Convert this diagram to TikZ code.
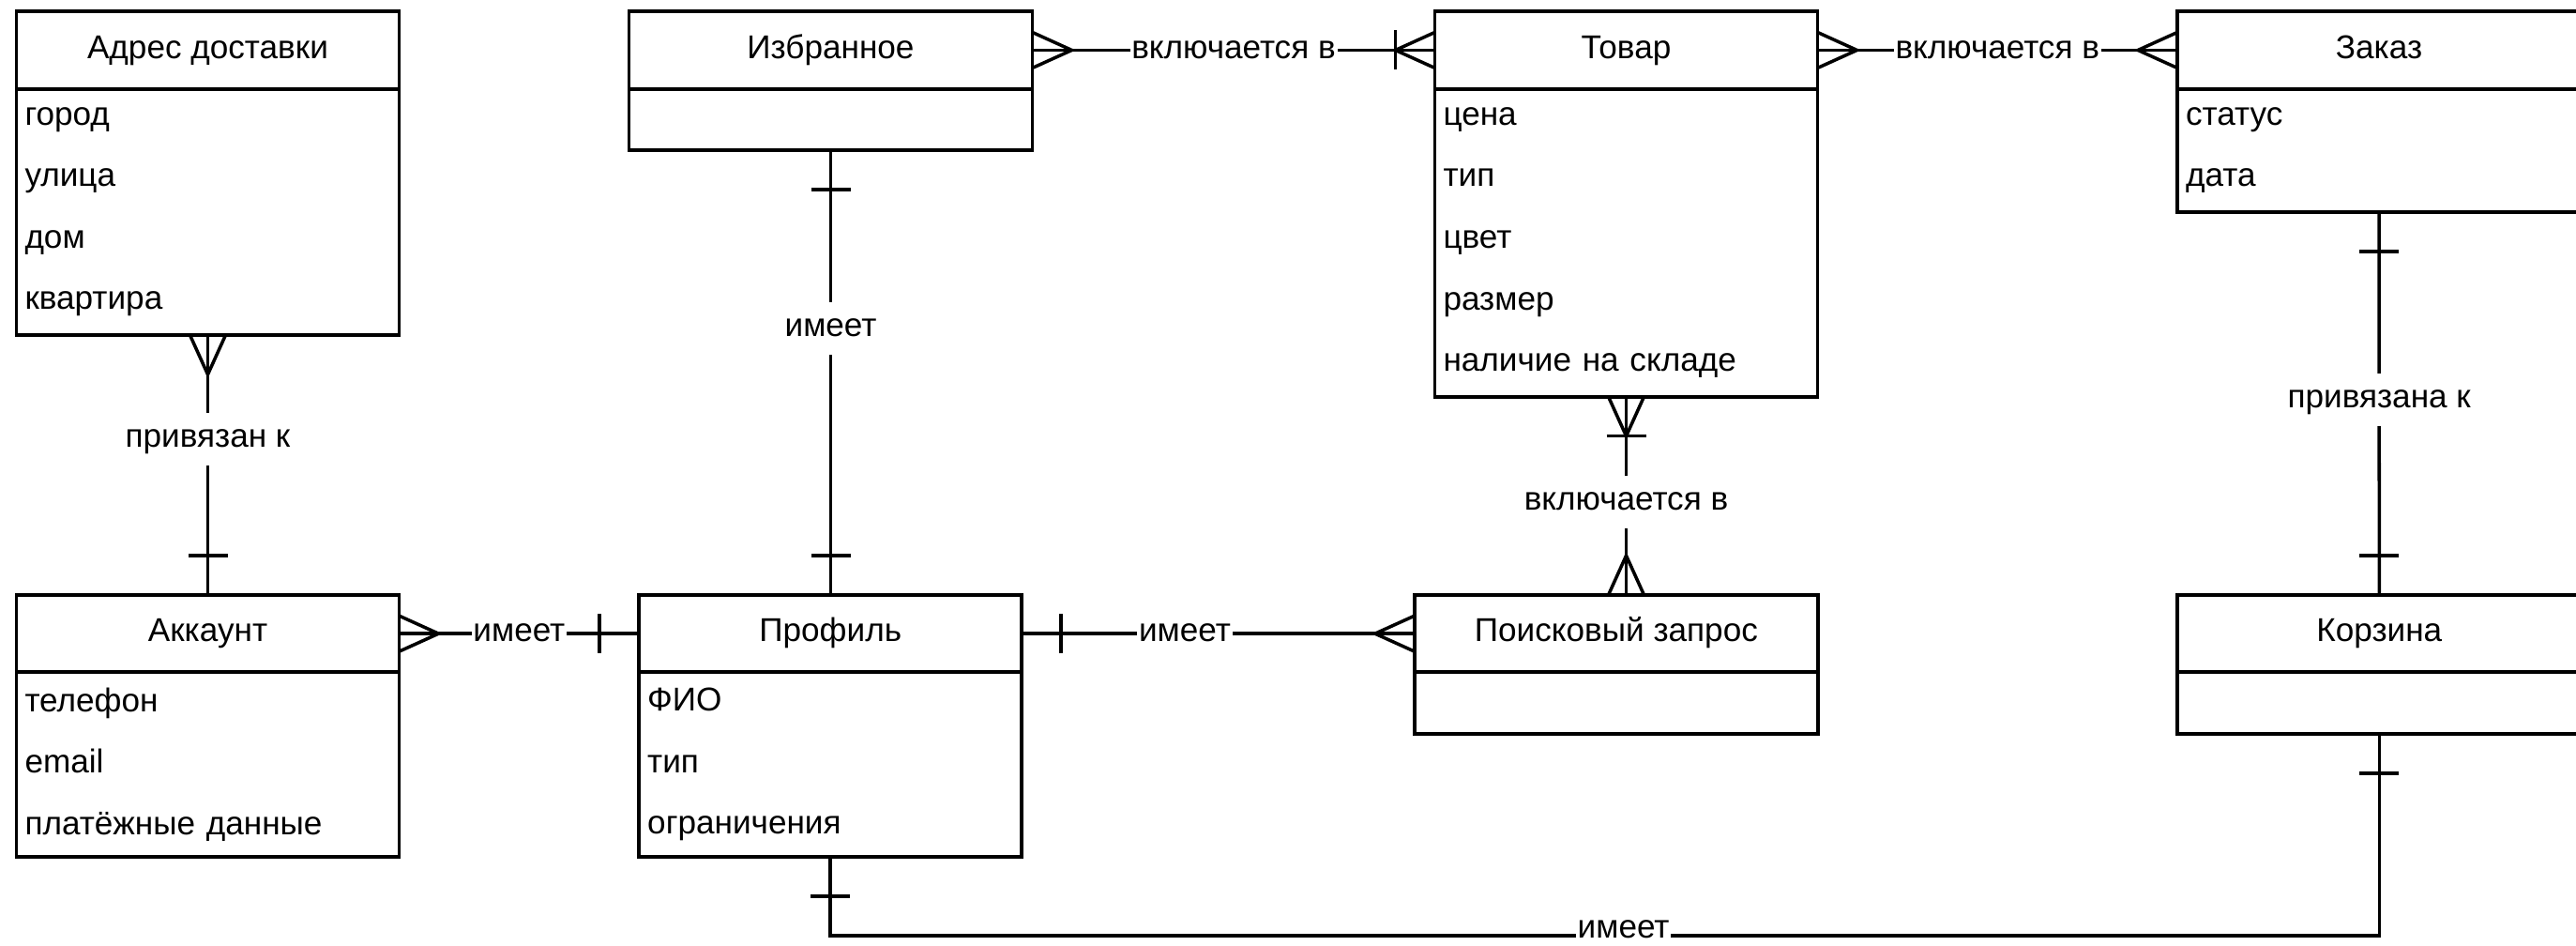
\documentclass[tikz,border=0pt]{standalone}
\usepackage{fontspec}
\setmainfont{Liberation Sans}
\usetikzlibrary{positioning}

\begin{document}
\begin{tikzpicture}[
  node distance=0cm,
  ent/.style={rectangle, draw, line width=1.1pt, outer sep=0pt, inner sep=0pt,
              font=\fontsize{10}{12}\selectfont},
  hd/.style={ent, minimum width=#1, minimum height=0.823cm, text height=7.2pt,
             text depth=2.2pt},
  attr/.style={ent, text width=#1, inner xsep=0.09cm, align=left,
               font=\fontsize{10}{18.66}\selectfont},
  conn/.style={line width=1pt},
  lbl/.style={fill=white, inner xsep=0.5pt, inner ysep=3pt, text height=7.5pt,
              text depth=2.5pt, font=\fontsize{10}{12}\selectfont},
  lowlbl/.style={lbl, inner ysep=0pt, text depth=0pt, yshift=3pt},
  many/.pic={\draw[conn] (-0.19,0) -- (0,-0.42) -- (0.19,0);},
  one/.pic={\draw[conn] (-0.21,-0.42) -- (0.21,-0.42);},
]
\useasboundingbox (0,0) rectangle (27.46,-10.07);

\node[hd=4.08cm, anchor=north west] (adres) at (0.175,-0.123) {Адрес доставки};
\node[attr=3.90cm, minimum height=2.624cm, below=of adres] (adresB) {город\\улица\\дом\\квартира};
\node[hd=4.30cm, right=2.45cm of adres] (izbr) {Избранное};
\node[attr=4.12cm, minimum height=0.656cm, below=of izbr] (izbrB) {};
\node[hd=4.08cm, right=4.29cm of izbr] (tovar) {Товар};
\node[attr=3.90cm, minimum height=3.28cm, below=of tovar] (tovarB) {цена\\тип\\цвет\\размер\\наличие на складе};
\node[hd=4.30cm, right=3.835cm of tovar] (zakaz) {Заказ};
\node[attr=4.12cm, minimum height=1.312cm, below=of zakaz] (zakazB) {статус\\дата};

\node[hd=4.08cm, below=2.77cm of adresB] (akk) {Аккаунт};
\node[attr=3.90cm, minimum height=1.968cm, below=of akk] (akkB) {телефон\\email\\платёжные данные};
\node[hd=4.08cm, right=2.557cm of akk] (prof) {Профиль};
\node[attr=3.90cm, minimum height=1.968cm, below=of prof] (profB) {ФИО\\тип\\ограничения};
\node[hd=4.30cm, right=4.186cm of prof] (poisk) {Поисковый запрос};
\node[attr=4.12cm, minimum height=0.656cm, below=of poisk] (poiskB) {};
\node[hd=4.30cm, right=3.835cm of poisk] (korz) {Корзина};
\node[attr=4.12cm, minimum height=0.656cm, below=of korz] (korzB) {};

\draw[conn] (adresB.south) -- node[lbl, pos=0.4]{привязан к} (akk.north);
\pic at (adresB.south) {many};
\pic[rotate=180] at (akk.north) {one};

\draw[conn] (izbrB.south) -- node[lbl, pos=0.4]{имеет} (izbrB.south |- prof.north);
\pic at (izbrB.south) {one};
\pic[rotate=180] at (izbrB.south |- prof.north) {one};

\draw[conn] (izbr.east) -- node[lbl]{включается в} (tovar.west);
\pic[rotate=90] at (izbr.east) {many};
\pic[rotate=-90] at (tovar.west) {many};
\pic[rotate=-90] at (tovar.west) {one};

\draw[conn] (tovar.east) -- node[lbl]{включается в} (zakaz.west);
\pic[rotate=90] at (tovar.east) {many};
\pic[rotate=-90] at (zakaz.west) {many};

\draw[conn] (tovarB.south) -- node[lbl, pos=0.53]{включается в} (tovarB.south |- poisk.north);
\pic at (tovarB.south) {many};
\pic at (tovarB.south) {one};
\pic[rotate=180] at (tovarB.south |- poisk.north) {many};

\draw[conn] (zakazB.south) -- node[lbl, pos=0.49]{привязана к} (korz.north);
\pic at (zakazB.south) {one};
\pic[rotate=180] at (korz.north) {one};

\draw[conn] (akk.east) -- node[lbl]{имеет} (prof.west);
\pic[rotate=90] at (akk.east) {many};
\pic[rotate=-90] at (prof.west) {one};

\draw[conn] (prof.east) -- node[lbl, pos=0.415]{имеет} (poisk.west);
\pic[rotate=90] at (prof.east) {one};
\pic[rotate=-90] at (poisk.west) {many};

\draw[conn] (profB.south) -- ++(0,-0.84) -| node[lowlbl, pos=0.256]{имеет} (korzB.south);
\pic at (profB.south) {one};
\pic at (korzB.south) {one};
\end{tikzpicture}
\end{document}
